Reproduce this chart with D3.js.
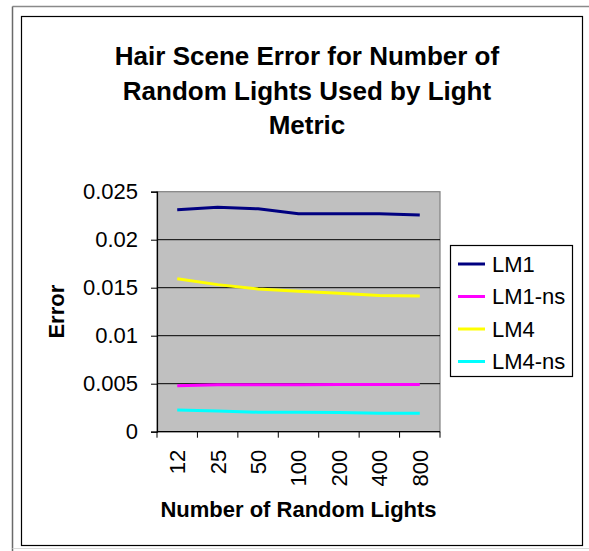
<!DOCTYPE html>
<html>
<head>
<meta charset="utf-8">
<script src="https://cdn.jsdelivr.net/npm/d3@7"></script>
<style>
  html, body { margin: 0; padding: 0; background: #fff; }
  svg { display: block; font-family: "Liberation Sans", Arial, sans-serif; }
</style>
</head>
<body>
<svg id="chart" width="589" height="551"></svg>
<script>
// Number of random lights sampled (category axis)
const categories = ["12", "25", "50", "100", "200", "400", "800"];
// Error per light metric
const seriesNames = ["LM1", "LM1-ns", "LM4", "LM4-ns"];
const lm1   = [0.02312, 0.02338, 0.02322, 0.02270, 0.02270, 0.02270, 0.02256];
const lm1ns = [0.00478, 0.00490, 0.00490, 0.00490, 0.00491, 0.00491, 0.00492];
const lm4   = [0.01594, 0.01532, 0.01486, 0.01462, 0.01442, 0.01420, 0.01414];
const lm4ns = [0.00226, 0.00215, 0.00203, 0.00202, 0.00201, 0.00192, 0.00191];
const seriesColors = ["#000080", "#ff00ff", "#ffff00", "#00ffff"];
const yTicks = [0, 0.005, 0.01, 0.015, 0.02, 0.025];
const yTickLabels = ["0", "0.005", "0.01", "0.015", "0.02", "0.025"];
const titleLines = ["Hair Scene Error for Number of", "Random Lights Used by Light", "Metric"];

const series = [lm1, lm1ns, lm4, lm4ns].map((values, i) => ({
  name: seriesNames[i], color: seriesColors[i], values
}));

const svg = d3.select("#chart");

// outer frame
svg.append("line").attr("x1", 12.5).attr("x2", 589).attr("y1", 6.5).attr("y2", 6.5)
  .attr("stroke", "#8a8a8a").attr("stroke-width", 1.5);
svg.append("line").attr("x1", 12.5).attr("x2", 12.5).attr("y1", 6.5).attr("y2", 551)
  .attr("stroke", "#6a6a6a").attr("stroke-width", 1.5);
svg.append("line").attr("x1", 12.5).attr("x2", 589).attr("y1", 548.5).attr("y2", 548.5)
  .attr("stroke", "#d8d8d8").attr("stroke-width", 1);
svg.append("rect").attr("x", 21.5).attr("y", 16.5).attr("width", 561).attr("height", 529)
  .attr("fill", "#fff").attr("stroke", "#000").attr("stroke-width", 1.2);

// plot area
const plotLeft = 157, plotRight = 440, plotTop = 191.7, plotBottom = 431.7;
const x = d3.scaleBand().domain(categories).range([plotLeft, plotRight]).padding(0);
const y = d3.scaleLinear().domain([0, 0.025]).range([plotBottom, plotTop]);

svg.append("rect").attr("x", plotLeft).attr("y", plotTop)
  .attr("width", plotRight - plotLeft).attr("height", plotBottom - plotTop)
  .attr("fill", "#c0c0c0").attr("stroke", "#808080").attr("stroke-width", 1.2);

// horizontal gridlines
svg.append("g").selectAll("line").data(yTicks.filter(t => t > 0 && t < 0.025)).join("line")
  .attr("x1", plotLeft).attr("x2", plotRight)
  .attr("y1", d => y(d)).attr("y2", d => y(d))
  .attr("stroke", "#000").attr("stroke-width", 1);

// y axis
const yAxis = svg.append("g").attr("transform", `translate(${plotLeft},0)`)
  .call(d3.axisLeft(y).tickValues(yTicks).tickSize(6).tickPadding(13)
    .tickFormat((d, i) => yTickLabels[i]));
yAxis.select(".domain").attr("stroke", "#000").attr("stroke-width", 1.2);
yAxis.selectAll(".tick line").attr("stroke", "#000");
yAxis.selectAll("text").attr("font-size", 22).attr("fill", "#000")
  .attr("font-family", "Liberation Sans, Arial, sans-serif");

// x axis: ticks at band boundaries, labels at band centres
const boundaries = categories.map(c => x(c)).concat([plotRight]);
const xAxisG = svg.append("g");
xAxisG.append("line").attr("x1", plotLeft).attr("x2", plotRight)
  .attr("y1", plotBottom).attr("y2", plotBottom)
  .attr("stroke", "#000").attr("stroke-width", 1.2);
xAxisG.selectAll("line.tk").data(boundaries).join("line").attr("class", "tk")
  .attr("x1", d => d).attr("x2", d => d).attr("y1", plotBottom).attr("y2", plotBottom + 6)
  .attr("stroke", "#000");
xAxisG.selectAll("text").data(categories).join("text")
  .attr("transform", d => `translate(${x(d) + x.bandwidth() / 2},${plotBottom + 18}) rotate(-90)`)
  .attr("text-anchor", "end").attr("dy", "0.36em")
  .attr("font-size", 22).attr("fill", "#000")
  .text(d => d);

// series lines
const line = d3.line()
  .x((d, i) => x(categories[i]) + x.bandwidth() / 2)
  .y(d => y(d));
svg.append("g").selectAll("path").data(series).join("path")
  .attr("d", d => line(d.values))
  .attr("fill", "none").attr("stroke", d => d.color)
  .attr("stroke-width", 3).attr("stroke-linejoin", "round");

// title
svg.append("text").attr("x", 307).attr("y", 65)
  .attr("text-anchor", "middle").attr("font-size", 26).attr("font-weight", "bold")
  .selectAll("tspan").data(titleLines).join("tspan")
  .attr("x", 307).attr("dy", (d, i) => i === 0 ? 0 : 34.5).text(d => d);

// axis titles
svg.append("text").attr("x", (plotLeft + plotRight) / 2).attr("y", 517)
  .attr("text-anchor", "middle").attr("font-size", 22).attr("font-weight", "bold")
  .text("Number of Random Lights");
svg.append("text").attr("transform", `translate(64,${(plotTop + plotBottom) / 2}) rotate(-90)`)
  .attr("text-anchor", "middle").attr("font-size", 22).attr("font-weight", "bold")
  .text("Error");

// legend
const lg = svg.append("g");
lg.append("rect").attr("x", 450.5).attr("y", 245.5).attr("width", 122).attr("height", 131)
  .attr("fill", "#fff").attr("stroke", "#000").attr("stroke-width", 1.2);
const rows = lg.selectAll("g.row").data(series).join("g").attr("class", "row")
  .attr("transform", (d, i) => `translate(0,${264 + i * 32.5})`);
rows.append("line").attr("x1", 458).attr("x2", 485).attr("y1", 0).attr("y2", 0)
  .attr("stroke", d => d.color).attr("stroke-width", 3);
rows.append("text").attr("x", 492).attr("y", 0).attr("dy", "0.36em")
  .attr("font-size", 22).text(d => d.name);
</script>
</body>
</html>
